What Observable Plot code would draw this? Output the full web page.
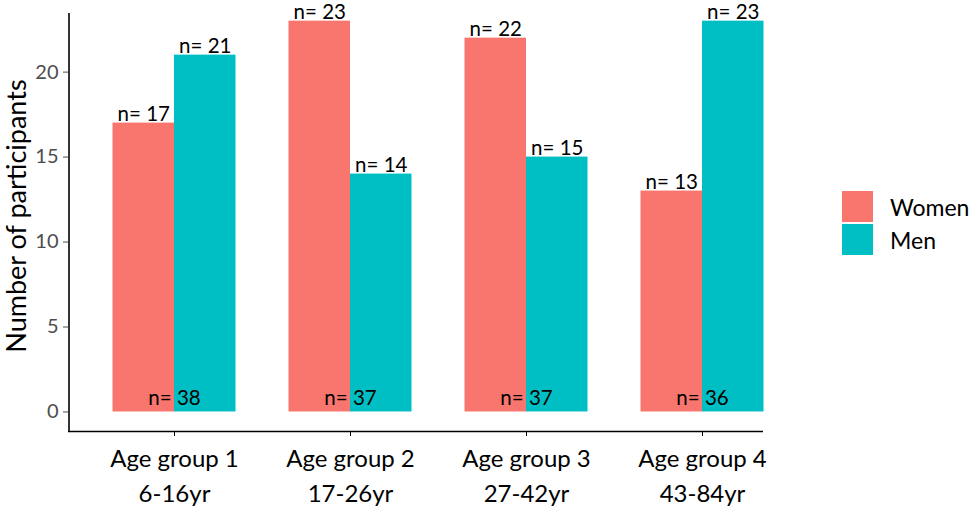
<!DOCTYPE html>
<html>
<head>
<meta charset="utf-8">
<script src="https://cdn.jsdelivr.net/npm/d3@7"></script>
<script src="https://cdn.jsdelivr.net/npm/@observablehq/plot@0.6"></script>
<style>
  body { margin: 0; background: #fff; }
  #wrap { position: relative; width: 970px; height: 510px; font-family: Lato, sans-serif; overflow: hidden; }
  #legend { position: absolute; left: 842px; top: 190px; }
  .item { display: flex; align-items: center; height: 33px; }
  .key { width: 31px; height: 31px; margin-right: 17px; }
  .lab { font-size: 23px; color: #000; }
  #ytitle { position: absolute; left: 15px; top: 216px; transform: translate(-50%, -50%) rotate(-90deg);
    white-space: nowrap; font-size: 27px; color: #000; line-height: 1; }
</style>
</head>
<body>
<div id="wrap"></div>
<script>
const groups = ["Age group 1", "Age group 2", "Age group 3", "Age group 4"];
const ageRanges = ["6-16yr", "17-26yr", "27-42yr", "43-84yr"];
const women = [17, 23, 22, 13];
const men = [21, 14, 15, 23];
const totals = [38, 37, 37, 36];
const sexes = ["Women", "Men"];
const colors = ["#F8766D", "#00BFC4"];
const yTicks = [0, 5, 10, 15, 20];
const yTitle = "Number of participants";
const yDomain = [-1.15, 23.45];

const womenRows = groups.map((g, i) => ({group: g, value: women[i]}));
const menRows = groups.map((g, i) => ({group: g, value: men[i]}));
const totalRows = groups.map((g, i) => ({group: g, total: totals[i]}));
const rangeOf = Object.fromEntries(groups.map((g, i) => [g, ageRanges[i]]));

const band = 176, half = band / 2, barW = 61.5, xStart = 85.5;

const chart = Plot.plot({
  width: 970,
  height: 510,
  marginLeft: 68,
  marginRight: 207,
  marginTop: 13,
  marginBottom: 79,
  style: {fontFamily: "Lato, sans-serif", background: "#fff"},
  x: {domain: groups, range: [xStart, xStart + band * 4], padding: 0},
  y: {domain: yDomain},
  marks: [
    Plot.barY(womenRows, {x: "group", y1: 0, y2: "value", fill: colors[0], insetLeft: half - barW, insetRight: half}),
    Plot.barY(menRows, {x: "group", y1: 0, y2: "value", fill: colors[1], insetLeft: half, insetRight: half - barW}),
    Plot.text(womenRows, {x: "group", y: "value", text: d => "n= " + d.value, dx: -barW / 2, dy: -2, lineAnchor: "bottom", fontSize: 20.5, fill: "#000"}),
    Plot.text(menRows, {x: "group", y: "value", text: d => "n= " + d.value, dx: barW / 2, dy: -2, lineAnchor: "bottom", fontSize: 20.5, fill: "#000"}),
    Plot.text(totalRows, {x: "group", y: 0, text: d => "n= " + d.total, dy: -7, lineAnchor: "bottom", fontSize: 20.5, fill: "#000"}),
    Plot.axisY({ticks: yTicks, tickSize: 5, tickPadding: 5, fontSize: 20, color: "#4d4d4d", label: null}),
    Plot.axisX({tickSize: 5, tickPadding: 6, fontSize: 24, lineHeight: 1.45, label: null,
      tickFormat: g => g + "\n" + rangeOf[g]}),
    Plot.ruleY([yDomain[0]], {stroke: "#000", strokeWidth: 1.6}),
    Plot.ruleX([groups[0]], {dx: 68 - (xStart + half), stroke: "#000", strokeWidth: 1.6})
  ]
});
document.getElementById("wrap").appendChild(chart);

const yt = document.createElement("div");
yt.id = "ytitle";
yt.textContent = yTitle;
document.getElementById("wrap").appendChild(yt);

const legend = document.createElement("div");
legend.id = "legend";
sexes.forEach((s, i) => {
  const item = document.createElement("div");
  item.className = "item";
  const key = document.createElement("div");
  key.className = "key";
  key.style.background = colors[i];
  const lab = document.createElement("span");
  lab.className = "lab";
  lab.textContent = s;
  item.appendChild(key);
  item.appendChild(lab);
  legend.appendChild(item);
});
document.getElementById("wrap").appendChild(legend);
</script>
</body>
</html>
